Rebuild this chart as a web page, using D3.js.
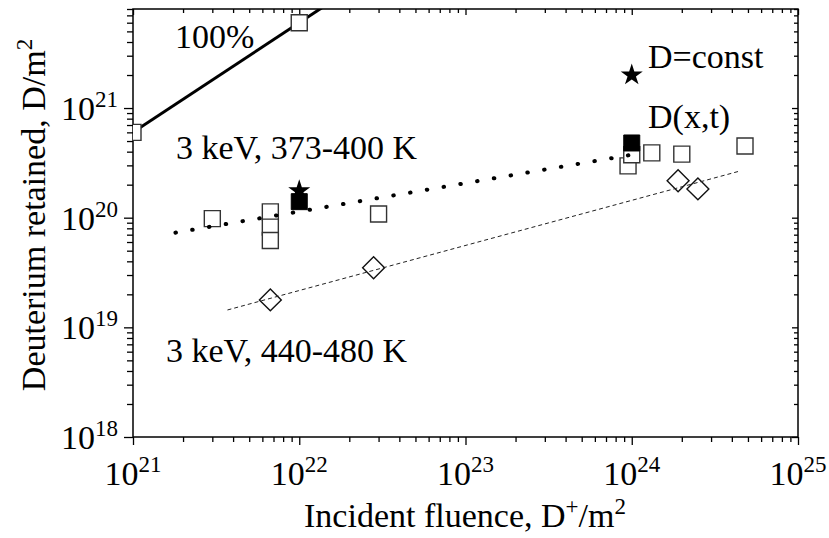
<!DOCTYPE html>
<html>
<head>
<meta charset="utf-8">
<script src="https://cdn.jsdelivr.net/npm/d3@7"></script>
<style>
  body { margin: 0; background: #fff; }
  svg { font-family: "Liberation Serif", "Times New Roman", serif; }
</style>
</head>
<body>
<svg id="chart" width="829" height="538"></svg>
<script>
// open squares, 3 keV 373-400 K and 100% points
var openSqX = [1e21, 1e22, 3e21, 6.7e21, 6.7e21, 6.7e21, 3e22, 9.5e23, 1e24, 1.32e24, 2e24, 4.8e24];
var openSqY = [6e20, 6e21, 9.8e19, 1.13e20, 8.2e19, 6.2e19, 1.08e20, 2.97e20, 3.75e20, 3.9e20, 3.8e20, 4.5e20];
// filled squares, D(x,t) model
var fillSqX = [1e22, 1e24];
var fillSqY = [1.4e20, 4.8e20];
// stars, D=const model
var starX = [1e22, 1e24];
var starY = [1.76e20, 2.0e21];
// diamonds, 3 keV 440-480 K
var diamX = [6.7e21, 2.8e22, 1.9e24, 2.5e24];
var diamY = [1.78e19, 3.5e19, 2.17e20, 1.83e20];
// fit lines
var line100X = [1e21, 1.4e22];
var line100Y = [6e20, 8.4e21];
var dotX = [1.8e21, 1e24];
var dotY = [7.3e19, 3.75e20];
var dashX = [3.7e21, 4.5e24];
var dashY = [1.44e19, 2.67e20];
// tick labels
var xMajor = [1e21, 1e22, 1e23, 1e24, 1e25];
var xExp = ["21", "22", "23", "24", "25"];
var yMajor = [1e18, 1e19, 1e20, 1e21];
var yExp = ["18", "19", "20", "21"];

var svg = d3.select("#chart");
var plotL = 133, plotR = 798, plotT = 9, plotB = 437;

var x = d3.scaleLog().domain([1e21, 1e25]).range([plotL, plotR]);
var y = d3.scaleLog().domain([1e18, 8e21]).range([plotB, plotT]);

function minors(lo, hi) {
  var out = [];
  for (var e = lo; e < hi; e++) {
    for (var m = 2; m <= 9; m++) {
      out.push(m * Math.pow(10, e));
    }
  }
  return out;
}
var xMinor = minors(21, 25);
var yMinor = minors(18, 22).filter(function(v) { return v <= 8e21; });

function styleAxis(g) {
  g.select(".domain").remove();
  g.selectAll("line").attr("stroke", "#000").attr("stroke-width", 1.3);
  g.selectAll("text").remove();
}

// outer ticks on bottom/left, inner ticks on top/right
svg.append("g").attr("transform", `translate(0,${plotB})`)
  .call(d3.axisBottom(x).tickValues(xMajor).tickSize(8)).call(styleAxis);
svg.append("g").attr("transform", `translate(0,${plotB})`)
  .call(d3.axisBottom(x).tickValues(xMinor).tickSize(5)).call(styleAxis);
svg.append("g").attr("transform", `translate(${plotL},0)`)
  .call(d3.axisLeft(y).tickValues(yMajor).tickSize(9)).call(styleAxis);
svg.append("g").attr("transform", `translate(${plotL},0)`)
  .call(d3.axisLeft(y).tickValues(yMinor).tickSize(6)).call(styleAxis);
svg.append("g").attr("transform", `translate(0,${plotT})`)
  .call(d3.axisTop(x).tickValues(xMajor).tickSize(-6)).call(styleAxis);
svg.append("g").attr("transform", `translate(0,${plotT})`)
  .call(d3.axisTop(x).tickValues(xMinor).tickSize(-4)).call(styleAxis);
svg.append("g").attr("transform", `translate(${plotR},0)`)
  .call(d3.axisRight(y).tickValues(yMajor).tickSize(-6)).call(styleAxis);
svg.append("g").attr("transform", `translate(${plotR},0)`)
  .call(d3.axisRight(y).tickValues(yMinor).tickSize(-4)).call(styleAxis);

svg.append("rect").attr("x", plotL).attr("y", plotT)
  .attr("width", plotR - plotL).attr("height", plotB - plotT)
  .attr("fill", "none").attr("stroke", "#000").attr("stroke-width", 1.5);

// tick labels with superscripts
var xl = svg.selectAll("text.xtick").data(xMajor).enter().append("text")
  .attr("class", "xtick")
  .attr("x", function(d) { return x(d); })
  .attr("y", plotB + 48)
  .attr("text-anchor", "middle")
  .attr("font-size", 34);
xl.append("tspan").text("10");
xl.append("tspan").attr("font-size", 23).attr("dy", -13).text(function(d, i) { return xExp[i]; });

var yl = svg.selectAll("text.ytick").data(yMajor).enter().append("text")
  .attr("class", "ytick")
  .attr("x", plotL - 15)
  .attr("y", function(d) { return y(d) + 12; })
  .attr("text-anchor", "end")
  .attr("font-size", 34);
yl.append("tspan").text("10");
yl.append("tspan").attr("font-size", 23).attr("dy", -13).text(function(d, i) { return yExp[i]; });

// axis titles
var xt = svg.append("text").attr("x", 465).attr("y", 527)
  .attr("text-anchor", "middle").attr("font-size", 34);
xt.append("tspan").text("Incident fluence, D");
xt.append("tspan").attr("font-size", 23).attr("dy", -13).text("+");
xt.append("tspan").attr("dy", 13).text("/m");
xt.append("tspan").attr("font-size", 23).attr("dy", -13).text("2");

var yt = svg.append("text").attr("transform", "translate(45,215) rotate(-90)")
  .attr("text-anchor", "middle").attr("font-size", 34);
yt.append("tspan").text("Deuterium retained, D/m");
yt.append("tspan").attr("font-size", 23).attr("dy", -13).text("2");

// plot area
svg.append("clipPath").attr("id", "clip").append("rect")
  .attr("x", plotL).attr("y", plotT).attr("width", plotR - plotL).attr("height", plotB - plotT);
var plot = svg.append("g").attr("clip-path", "url(#clip)");

var line = d3.line()
  .x(function(d) { return x(d[0]); })
  .y(function(d) { return y(d[1]); });

plot.append("path").datum(d3.zip(line100X, line100Y)).attr("d", line)
  .attr("fill", "none").attr("stroke", "#000").attr("stroke-width", 3);

var sq = d3.symbol().type(d3.symbolSquare).size(256);
plot.selectAll("path.open").data(d3.zip(openSqX, openSqY)).enter().append("path")
  .attr("class", "open")
  .attr("d", sq)
  .attr("transform", function(d) { return `translate(${x(d[0])},${y(d[1])})`; })
  .attr("fill", "#fff").attr("stroke", "#333").attr("stroke-width", 1.4);

plot.selectAll("path.diam").data(d3.zip(diamX, diamY)).enter().append("path")
  .attr("class", "diam")
  .attr("d", d3.symbol().type(d3.symbolSquare).size(240))
  .attr("transform", function(d) { return `translate(${x(d[0])},${y(d[1])}) rotate(45)`; })
  .attr("fill", "#fff").attr("stroke", "#111").attr("stroke-width", 1.4);

plot.selectAll("path.filled").data(d3.zip(fillSqX, fillSqY)).enter().append("path")
  .attr("class", "filled")
  .attr("d", sq)
  .attr("transform", function(d) { return `translate(${x(d[0])},${y(d[1])})`; })
  .attr("fill", "#000").attr("stroke", "#000").attr("stroke-width", 1);

plot.selectAll("path.star").data(d3.zip(starX, starY)).enter().append("path")
  .attr("class", "star")
  .attr("d", d3.symbol().type(d3.symbolStar).size(150))
  .attr("transform", function(d) { return `translate(${x(d[0])},${y(d[1])})`; })
  .attr("fill", "#000");

plot.append("path").datum(d3.zip(dotX, dotY)).attr("d", line)
  .attr("fill", "none").attr("stroke", "#000").attr("stroke-width", 4)
  .attr("stroke-linecap", "round").attr("stroke-dasharray", "0.5 16.5");

plot.append("path").datum(d3.zip(dashX, dashY)).attr("d", line)
  .attr("fill", "none").attr("stroke", "#222").attr("stroke-width", 1)
  .attr("stroke-dasharray", "4 3");

// annotations
var notes = [
  { t: "100%", x: 175, y: 48 },
  { t: "3 keV, 373-400 K", x: 176, y: 159 },
  { t: "3 keV, 440-480 K", x: 166, y: 362 },
  { t: "D=const", x: 648, y: 68 },
  { t: "D(x,t)", x: 648, y: 128 }
];
svg.selectAll("text.note").data(notes).enter().append("text")
  .attr("class", "note")
  .attr("x", function(d) { return d.x; })
  .attr("y", function(d) { return d.y; })
  .attr("font-size", 34)
  .text(function(d) { return d.t; });
</script>
</body>
</html>
